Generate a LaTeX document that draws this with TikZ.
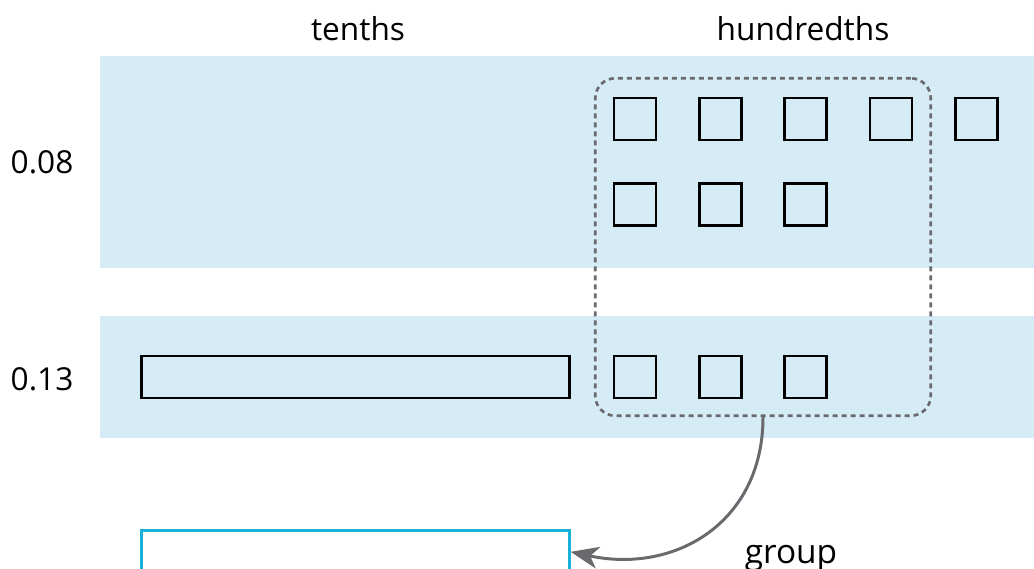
\documentclass[tikz,border=0pt]{standalone}
\usepackage{fontspec}
\setmainfont{Open Sans}
\usepackage{xcolor}
\usetikzlibrary{positioning,arrows.meta}
\definecolor{band}{RGB}{213,236,246}
\definecolor{edge}{RGB}{25,176,218}
\definecolor{dash}{RGB}{105,105,110}

\begin{document}
\begin{tikzpicture}[font=\fontsize{18}{22}\selectfont, node distance=0.81cm]
  \tikzstyle{sq}=[rectangle,draw=black,line width=1.6pt,minimum size=0.84cm,inner sep=0pt]
  \tikzstyle{bar}=[rectangle,draw=black,line width=1.6pt,minimum width=8.56cm,
                   minimum height=0.84cm,inner sep=0pt]
  \tikzstyle{grpbox}=[rectangle,draw=dash,line width=1.5pt,rounded corners=0.4cm,
                      dash pattern=on 0.1cm off 0.08cm,minimum width=6.71cm,minimum height=6.75cm]
  \tikzstyle{arr}=[-{Stealth[length=0.56cm,width=0.44cm,inset=0.16cm]},line width=1.7pt,color=dash]
  \useasboundingbox (0,0) rectangle (20.68,-11.38);
  % place value rows
  \fill[band] (2,-1.12) rectangle (20.68,-5.36);
  \fill[band] (2,-6.32) rectangle (20.68,-8.76);
  \node[anchor=base](tenths) at (7.16,-0.82){tenths};
  \node[anchor=base](hundredths) at (16.06,-0.82){hundredths};
  \node[anchor=base](n08) at (0.84,-3.47){0.08};
  \node[anchor=base](n13) at (0.84,-7.81){0.13};
  % hundredths squares
  \node[sq](a1) at (12.7,-2.38){};
  \node[sq,right=of a1](a2){};
  \node[sq,right=of a2](a3){};
  \node[sq,right=of a3](a4){};
  \node[sq,right=of a4](a5){};
  \node[sq,below=of a1](b1){};
  \node[sq,right=of b1](b2){};
  \node[sq,right=of b2](b3){};
  \node[sq](c1) at (12.7,-7.54){};
  \node[sq,right=of c1](c2){};
  \node[sq,right=of c2](c3){};
  % tenths bar and the regrouped one
  \node[bar,left=0.84cm of c1](tbar){};
  \node[bar,draw=edge,fill=white,below=2.6cm of tbar](sum){};
  \node[grpbox](grp) at (15.26,-4.94){};
  \draw[arr](grp.south) .. controls +(0,-2.1) and +(2.1,-0.45) .. (sum.east);
  \node[anchor=base](group) at (15.82,-11.26){\fontsize{19}{22}\selectfont group};
\end{tikzpicture}
\end{document}
